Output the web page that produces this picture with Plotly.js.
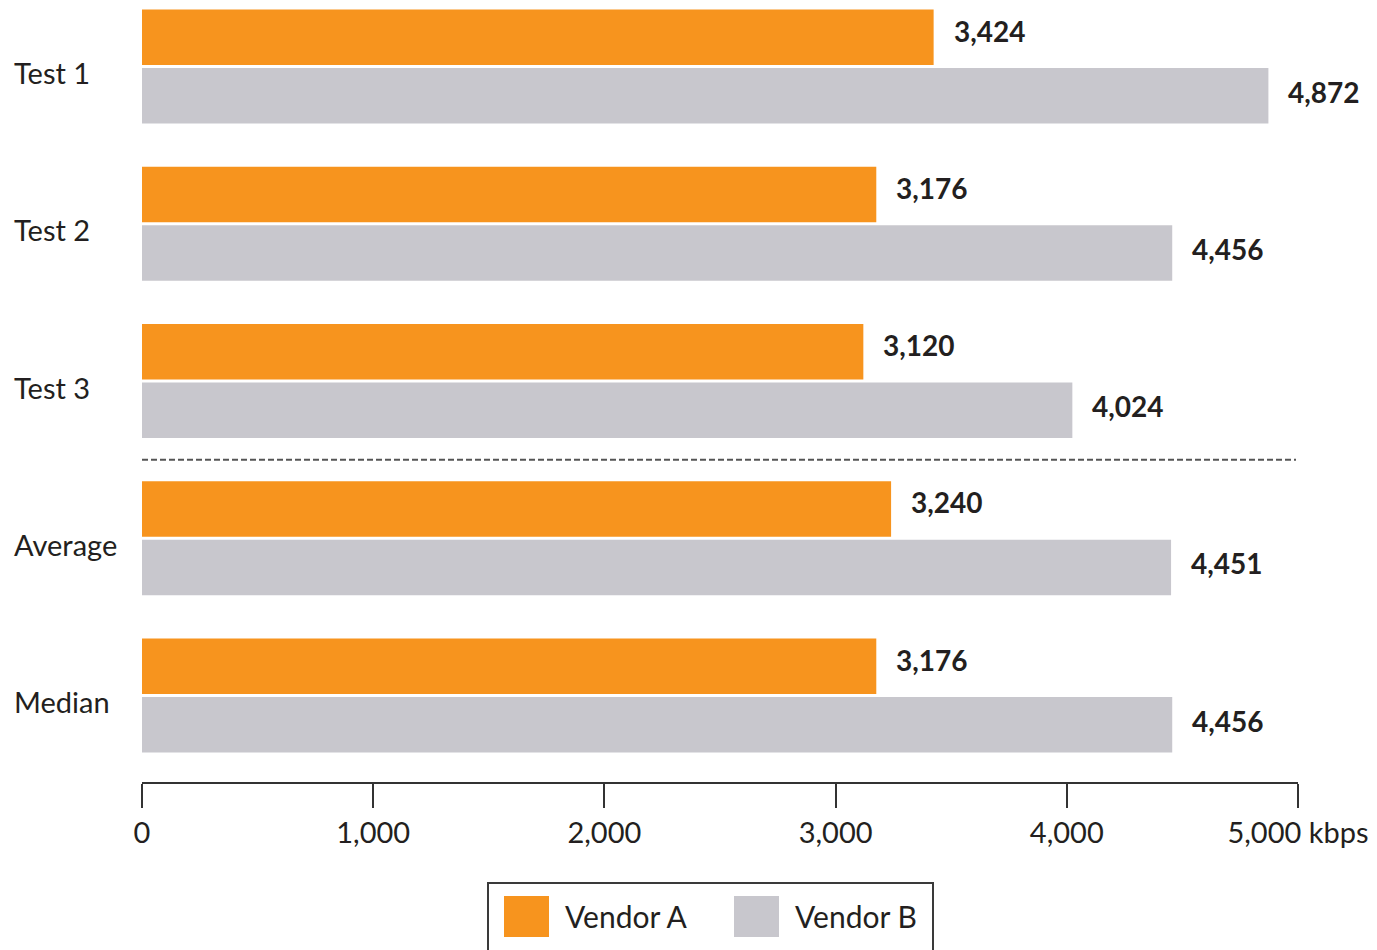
<!DOCTYPE html>
<html>
<head>
<meta charset="utf-8">
<script src="https://cdn.plot.ly/plotly-3.0.1.min.js"></script>
<style>html,body{margin:0;padding:0;background:#fff;}#chart{width:1377px;height:950px;}</style>
</head>
<body>
<div id="chart"></div>
<script>
// ---- data ----
var categories = ["Test 1", "Test 2", "Test 3", "Average", "Median"];
var seriesNames = ["Vendor A", "Vendor B"];
var vendorA = [3424, 3176, 3120, 3240, 3176];
var vendorB = [4872, 4456, 4024, 4451, 4456];
var tickValues = [0, 1000, 2000, 3000, 4000, 5000];
var tickLabels = ["0", "1,000", "2,000", "3,000", "4,000", "5,000 kbps"];

// ---- style ----
var W = 1377, H = 950;
var ML = 142, MR = 79, MT = 0, MB = 168;
var plotW = W - ML - MR, plotH = H - MT - MB;
var colors = ["#F7941E", "#C8C7CD"];
var textColor = "#231F20";
var FONT = "Lato, 'Open Sans', sans-serif";

function px2x(px) { return (px - ML) / plotW; }
function px2y(py) { return (H - MB - py) / plotH; }

var seriesVals = [vendorA, vendorB];
var traces = seriesVals.map(function (vals, k) {
  return {
    type: "bar", orientation: "h",
    name: seriesNames[k],
    x: vals, y: categories,
    marker: { color: colors[k], line: { width: 0 } },
    showlegend: false,
    hoverinfo: "x+name"
  };
});

var annotations = [];
// value labels
seriesVals.forEach(function (vals, k) {
  vals.forEach(function (v, i) {
    annotations.push({
      x: v, y: categories[i], xref: "x", yref: "y",
      text: "<b>" + v.toLocaleString("en-US") + "</b>",
      showarrow: false, xanchor: "left", yanchor: "middle",
      xshift: 18, yshift: k === 0 ? 36 : -25,
      font: { family: FONT, size: 28, color: textColor }
    });
  });
});
// category labels (left aligned)
categories.forEach(function (c) {
  annotations.push({
    x: px2x(12), y: c, xref: "paper", yref: "y",
    text: c, showarrow: false, xanchor: "left", yanchor: "middle",
    yshift: -6,
    font: { family: FONT, size: 29, color: textColor }
  });
});

var shapes = [];
// dashed separator between Test 3 and Average
shapes.push({
  type: "line", xref: "paper", yref: "y",
  x0: 0, x1: px2x(1296), y0: 2.5, y1: 2.5,
  line: { color: "#555555", width: 2, dash: "6px,3px" }
});

// custom legend
var legTop = 883, legBottom = 960, legLeft = 488, legRight = 933;
shapes.push({
  type: "rect", xref: "paper", yref: "paper",
  x0: px2x(legLeft), x1: px2x(legRight), y0: px2y(legTop), y1: px2y(legBottom),
  line: { color: "#3a3a3a", width: 2 }, fillcolor: "rgba(0,0,0,0)"
});
var legItemX = [504, 734];
seriesNames.forEach(function (n, k) {
  shapes.push({
    type: "rect", xref: "paper", yref: "paper",
    x0: px2x(legItemX[k]), x1: px2x(legItemX[k] + 45),
    y0: px2y(896), y1: px2y(937),
    line: { width: 0 }, fillcolor: colors[k]
  });
  annotations.push({
    x: px2x(legItemX[k] + 59), y: px2y(916), xref: "paper", yref: "paper",
    text: n, showarrow: false, xanchor: "left", yanchor: "middle",
    font: { family: FONT, size: 30, color: textColor }
  });
});

var layout = {
  width: W, height: H,
  margin: { l: ML, r: MR, t: MT, b: MB, pad: 0 },
  paper_bgcolor: "#ffffff", plot_bgcolor: "#ffffff",
  barmode: "group", bargap: 0.256, bargroupgap: 0.05,
  showlegend: false,
  font: { family: FONT, color: textColor },
  xaxis: {
    range: [0, 5000], autorange: false,
    tickmode: "array", tickvals: tickValues, ticktext: tickLabels,
    showgrid: false, zeroline: false,
    showline: true, linecolor: "#333333", linewidth: 2,
    ticks: "outside", ticklen: 24, tickwidth: 2, tickcolor: "#333333",
    tickfont: { family: FONT, size: 29, color: textColor },
    fixedrange: true
  },
  yaxis: {
    type: "category", categoryorder: "array", categoryarray: categories,
    range: [4.55, -0.423], autorange: false,
    showticklabels: false, showgrid: false, zeroline: false, showline: false,
    ticks: "", fixedrange: true
  },
  annotations: annotations,
  shapes: shapes
};

Plotly.newPlot("chart", traces, layout, { displayModeBar: false, staticPlot: true });
</script>
</body>
</html>
